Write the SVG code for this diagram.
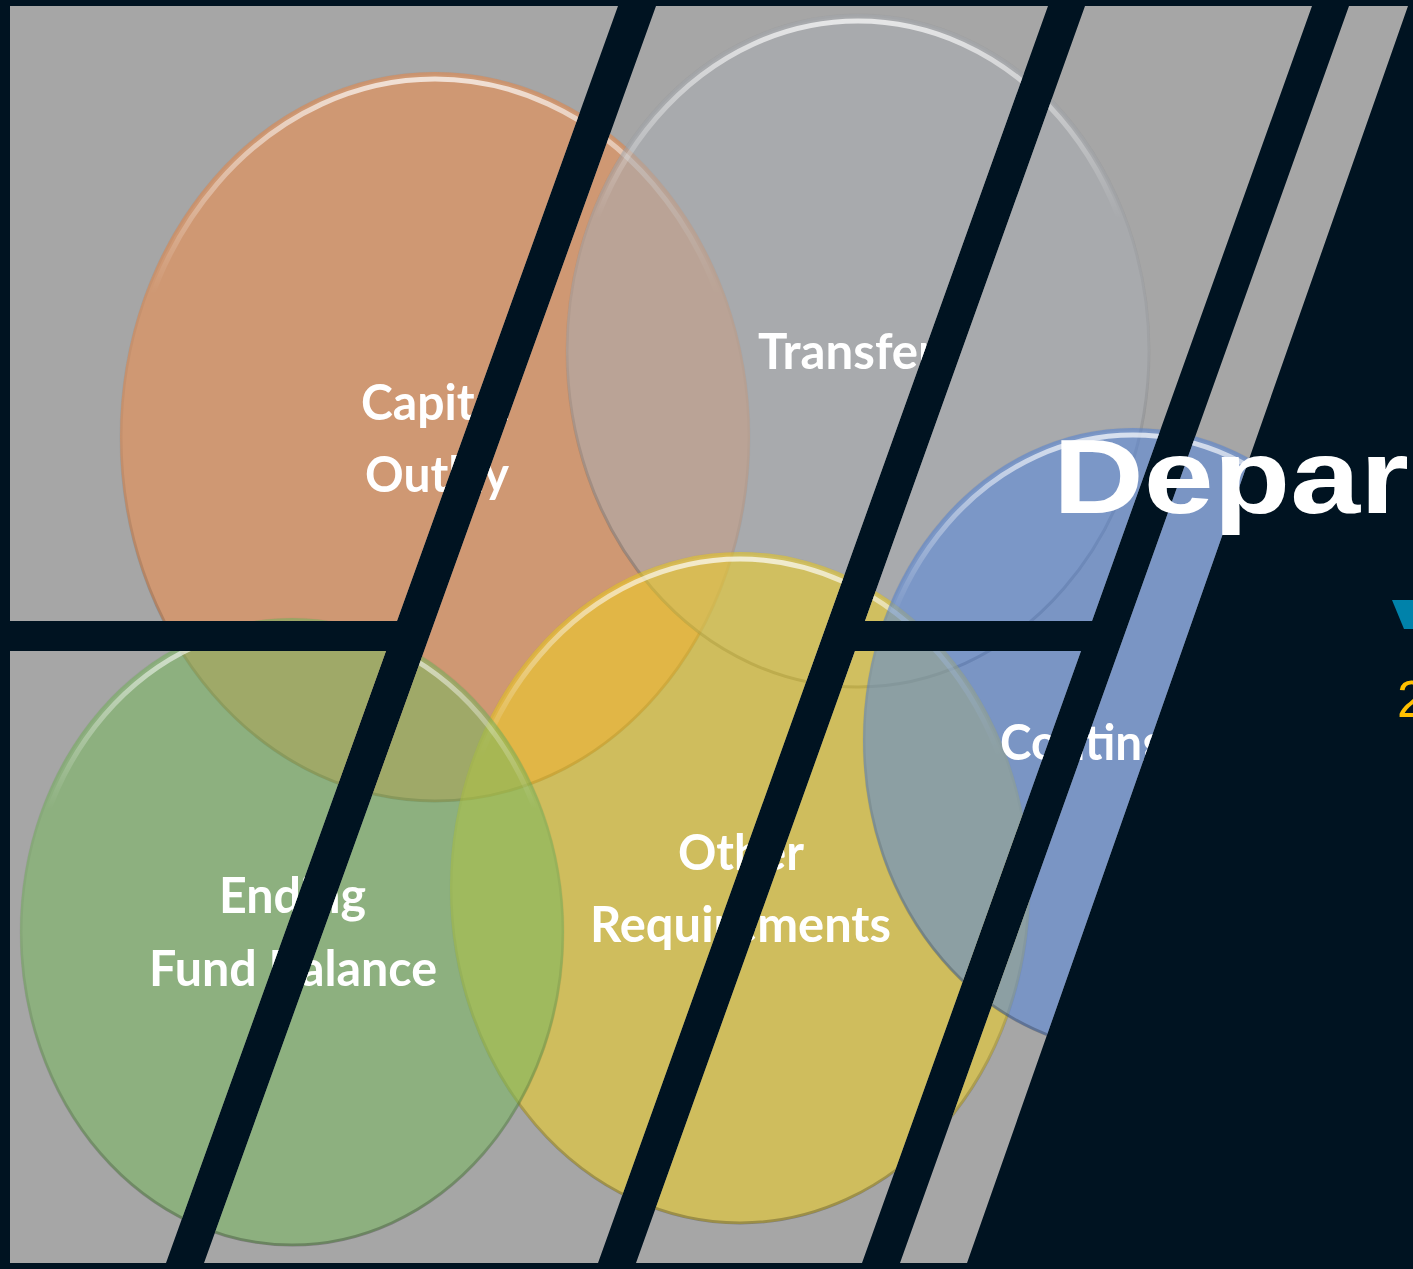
<svg xmlns="http://www.w3.org/2000/svg" width="1413" height="1269" viewBox="0 0 1413 1269">
  <style>
    .lbl { font-family: Lato, "Open Sans", "Liberation Sans", sans-serif; font-weight: 700; font-size: 50px; fill: #ffffff; }
    .blob { fill-opacity: 0.55; }
    .hi { fill: none; stroke: url(#rimHi); stroke-width: 5; }
    .lo { fill: none; stroke: url(#rimLo); stroke-width: 3; }
  </style>
  <defs>
    <linearGradient id="rimHi" x1="0" y1="0" x2="0" y2="1">
      <stop offset="0" stop-color="#ffffff" stop-opacity="0.7"/>
      <stop offset="0.12" stop-color="#ffffff" stop-opacity="0.4"/>
      <stop offset="0.3" stop-color="#ffffff" stop-opacity="0"/>
      <stop offset="1" stop-color="#ffffff" stop-opacity="0"/>
    </linearGradient>
    <linearGradient id="rimLo" x1="0" y1="0" x2="0" y2="1">
      <stop offset="0" stop-color="#000000" stop-opacity="0.03"/>
      <stop offset="0.5" stop-color="#000000" stop-opacity="0.05"/>
      <stop offset="1" stop-color="#000000" stop-opacity="0.25"/>
    </linearGradient>
    <clipPath id="windows">
      <polygon points="10,6 618,6 397,621 10,621"/>
      <polygon points="10,651 386,651 166,1263 10,1263"/>
      <polygon points="656,6 1048,6 598,1263 204,1263"/>
      <polygon points="1085,6 1312,6 1092,621 865,621"/>
      <polygon points="855,651 1081,651 862,1263 636,1263"/>
      <polygon points="1349,6 1408,6 967,1263 900,1263"/>
    </clipPath>
  </defs>

  <rect id="background" x="0" y="0" width="1413" height="1269" fill="#001321"/>

  <g id="picture" clip-path="url(#windows)">
    <rect x="0" y="0" width="1413" height="1269" fill="#a6a6a6"/>

    <g id="capital-outlay">
      <ellipse class="blob" cx="435" cy="437" rx="315" ry="365" fill="#f08c48"/>
      <ellipse class="lo" cx="435" cy="437" rx="314" ry="364"/>
      <ellipse class="hi" cx="435" cy="437" rx="308" ry="358"/>
      <text class="lbl" x="361" y="420" textLength="150" lengthAdjust="spacingAndGlyphs">Capital</text>
      <text class="lbl" x="365" y="492" textLength="144" lengthAdjust="spacingAndGlyphs">Outlay</text>
    </g>

    <g id="transfers">
      <ellipse class="blob" cx="858" cy="351" rx="292" ry="337" fill="#aaadb3"/>
      <ellipse class="lo" cx="858" cy="351" rx="291" ry="336"/>
      <ellipse class="hi" cx="858" cy="351" rx="285" ry="330"/>
      <text class="lbl" x="758" y="369" textLength="200" lengthAdjust="spacingAndGlyphs">Transfers</text>
    </g>

    <g id="other-requirements">
      <ellipse class="blob" cx="740" cy="888" rx="290" ry="336" fill="#f0d020"/>
      <ellipse class="lo" cx="740" cy="888" rx="289" ry="335"/>
      <ellipse class="hi" cx="740" cy="888" rx="283" ry="329"/>
      <text class="lbl" x="678" y="870" textLength="126" lengthAdjust="spacingAndGlyphs">Other</text>
      <text class="lbl" x="590" y="942" textLength="301" lengthAdjust="spacingAndGlyphs">Requirements</text>
    </g>

    <g id="contingency">
      <ellipse class="blob" cx="1133" cy="740" rx="270" ry="312" fill="#5687dc"/>
      <ellipse class="lo" cx="1133" cy="740" rx="269" ry="311"/>
      <ellipse class="hi" cx="1133" cy="740" rx="263" ry="305"/>
      <text class="lbl" x="1000" y="760" textLength="267" lengthAdjust="spacingAndGlyphs">Contingency</text>
    </g>

    <g id="ending-fund-balance">
      <ellipse class="blob" cx="292" cy="932" rx="272" ry="314" fill="#78b85f"/>
      <ellipse class="lo" cx="292" cy="932" rx="271" ry="313"/>
      <ellipse class="hi" cx="292" cy="932" rx="265" ry="307"/>
      <text class="lbl" x="219" y="913" textLength="147" lengthAdjust="spacingAndGlyphs">Ending</text>
      <text class="lbl" x="149" y="986" textLength="288" lengthAdjust="spacingAndGlyphs">Fund Balance</text>
    </g>
  </g>

  <g id="connectors"/>

  <g id="title">
    <text x="1053" y="513" font-family="'Liberation Sans', Arial, sans-serif" font-weight="700" font-size="105" fill="#ffffff" textLength="356" lengthAdjust="spacingAndGlyphs">Depar</text>
    <polygon points="1392,600 1413,600 1413,629 1404,629" fill="#0082aa"/>
    <text x="1397" y="717" font-family="'Liberation Sans', Arial, sans-serif" font-size="52" fill="#ffc000">2</text>
  </g>
</svg>
